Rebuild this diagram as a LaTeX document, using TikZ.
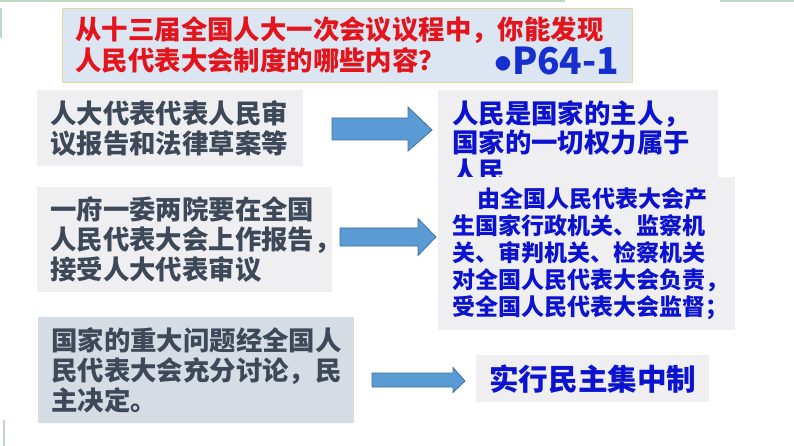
\documentclass[tikz,border=0pt]{standalone}
\usepackage{fontspec}
\setmainfont{Noto Sans CJK SC}
\usetikzlibrary{positioning, calc}

\definecolor{qfill}{HTML}{DCE6F2}
\definecolor{qline}{HTML}{E6D7A3}
\definecolor{qred}{HTML}{E3141B}
\definecolor{pblue}{HTML}{1530CF}
\definecolor{boxgray}{HTML}{EFEFF1}
\definecolor{boxsteel}{HTML}{D6DCE4}
\definecolor{textgray}{HTML}{3D4858}
\definecolor{textblue}{HTML}{0B12D0}
\definecolor{arrowblue}{HTML}{5B9BD5}
\definecolor{arrowline}{HTML}{41719C}
\definecolor{slidegreen}{HTML}{BFD8C6}

\tikzset{
  titlebox/.style={anchor=north west, fill=qfill, draw=qline, line width=0.8pt,
    align=left, inner xsep=13pt, text=qred,
    font=\bfseries\fontsize{26.4}{31}\selectfont},
  leftbox/.style={anchor=north west, fill=boxgray, align=left, inner xsep=13pt,
    text=textgray, font=\bfseries\fontsize{26.4}{30}\selectfont},
  rightbox/.style={anchor=north west, fill=boxgray, align=left, inner xsep=14pt,
    text=textblue, font=\bfseries\fontsize{26.4}{29}\selectfont},
  blockarrow/.style={fill=arrowblue, draw=arrowline, line width=0.8pt, line join=miter},
  template/.style={slidegreen, line width=1.5pt}
}

% block arrow: from, tip, half shaft, half head, head length
\newcommand{\blockarrow}[5]{%
  \draw[blockarrow] let \p1=(#1), \p2=(#2) in
    (\x1,\y1+#3) -- (\x2-#5,\y1+#3) -- (\x2-#5,\y1+#4) -- (\x2,\y2)
    -- (\x2-#5,\y1-#4) -- (\x2-#5,\y1-#3) -- (\x1,\y1-#3) -- cycle;}

\begin{document}
\begin{tikzpicture}[x=1pt, y=-1pt]
    \useasboundingbox (0,0) rectangle (794,446);

    % Slide edges
    \draw[template] (0,1) -- (565,1);
    \draw[template] (720,1) -- (794,1);
    \draw[template] (1,8) -- (1,38);
    \draw[template] (4,420) -- (4,446);

    % Question
    \node[titlebox, minimum width=570pt, minimum height=74pt, text width=544pt] (question) at (62,8)
        {从十三届全国人大一次会议议程中，你能发现\\人民代表大会制度的哪些内容？};
    \node[anchor=base west, inner sep=0pt, text=pblue,
        font=\bfseries\fontsize{37}{40}\selectfont] (page) at (477.5,75)
        {\raisebox{-9pt}[0pt][0pt]{\scalebox{1.4}{•}}\kern-17.5pt P64-1};

    % Left column
    \node[leftbox, minimum width=266pt, minimum height=76pt, text width=240pt] (deputy) at (37,90)
        {人大代表代表人民审\\议报告和法律草案等};
    \node[leftbox, minimum width=295pt, minimum height=105pt, text width=269pt] (report) at (37,187)
        {一府一委两院要在全国\\人民代表大会上作报告，\\接受人大代表审议};
    \node[leftbox, fill=boxsteel, minimum width=316pt, minimum height=106pt, text width=290pt] (decide) at (38,317)
        {国家的重大问题经全国人\\民代表大会充分讨论，民\\主决定。};

    % Right column
    \node[rightbox, minimum width=280pt, minimum height=104pt, text width=252pt] (master) at (438,90)
        {人民是国家的主人，\\国家的一切权力属于\\人民};
    \node[rightbox, font=\bfseries\fontsize{23}{27}\selectfont,
        minimum width=297pt, minimum height=153pt, text width=269pt] (organs) at (438,177)
        {\hspace{1.1em}由全国人民代表大会产\\生国家行政机关、监察机\\关、审判机关、检察机关\\对全国人民代表大会负责，\\受全国人民代表大会监督；};
    \node[rightbox, font=\bfseries\fontsize{29.6}{34}\selectfont, inner xsep=13pt,
        minimum width=233pt, minimum height=47pt, text width=207pt] (centralism) at (476,355)
        {实行民主集中制};

    % Arrows
    \coordinate (a1) at (332,129);
    \coordinate (t1) at (432,130);
    \coordinate (a2) at (340,237);
    \coordinate (t2) at (436,237);
    \coordinate (a3) at (372,380);
    \coordinate (t3) at (465,381);
    \blockarrow{a1}{t1}{11pt}{22pt}{24pt}
    \blockarrow{a2}{t2}{9pt}{18.5pt}{18pt}
    \blockarrow{a3}{t3}{7pt}{12.5pt}{12pt}
\end{tikzpicture}
\end{document}
